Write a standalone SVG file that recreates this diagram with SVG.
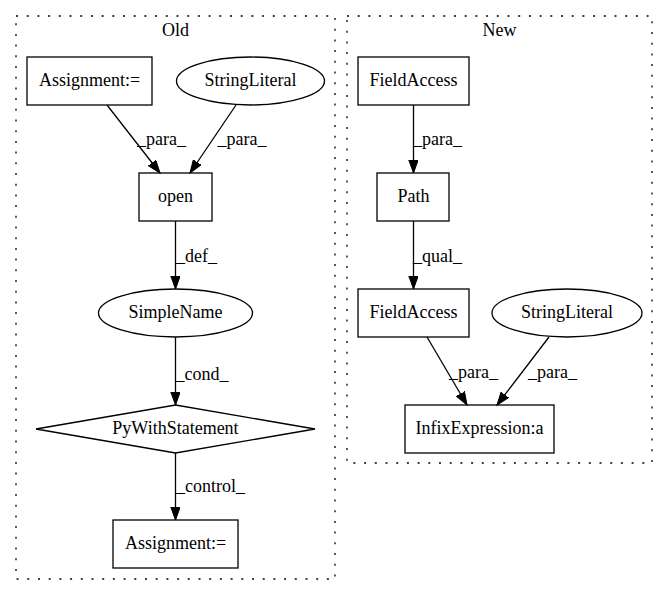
<svg xmlns="http://www.w3.org/2000/svg" width="668" height="596" viewBox="0 0 668 596">
<style>
text{font-family:"Liberation Serif","Times New Roman",serif;font-size:18px;text-anchor:middle;fill:#000}
.cl{fill:none;stroke:#000;stroke-dasharray:2,8.7;stroke-width:1.3}
.n{fill:none;stroke:#000;stroke-width:1.3}
.e{fill:none;stroke:#000;stroke-width:1.3;marker-end:url(#ah)}
</style>
<defs>
<marker id="ah" markerUnits="userSpaceOnUse" markerWidth="14" markerHeight="10" refX="13" refY="4.7" orient="auto">
<path d="M0,0 L13,4.7 L0,9.4 z" fill="#000" stroke="#000" stroke-width="1"/>
</marker>
</defs>
<rect width="668" height="596" fill="#fff"/>
<g id="cluster_old">
<rect class="cl" x="16" y="16" width="319" height="563"/>
<text x="175.5" y="36">Old</text>
</g>
<g id="cluster_new">
<rect class="cl" x="347" y="16" width="305" height="447"/>
<text x="499.5" y="36">New</text>
</g>
<g id="old_assign1"><rect class="n" x="27" y="57" width="125" height="48"/><text x="89.5" y="86">Assignment:=</text></g>
<g id="old_strlit"><ellipse class="n" cx="250.5" cy="81" rx="74" ry="24"/><text x="250.5" y="86">StringLiteral</text></g>
<g id="old_open"><rect class="n" x="139" y="173" width="73" height="48"/><text x="175.5" y="202">open</text></g>
<g id="old_simplename"><ellipse class="n" cx="175.5" cy="313" rx="77" ry="24"/><text x="175.5" y="318">SimpleName</text></g>
<g id="old_pywith"><polygon class="n" points="175.5,405 315,429 175.5,453 36,429"/><text x="175.5" y="434">PyWithStatement</text></g>
<g id="old_assign2"><rect class="n" x="113" y="520" width="125" height="48"/><text x="175.5" y="549">Assignment:=</text></g>
<g id="new_fa1"><rect class="n" x="358" y="57" width="111" height="48"/><text x="413.5" y="86">FieldAccess</text></g>
<g id="new_path"><rect class="n" x="377" y="173" width="72" height="48"/><text x="413.5" y="202">Path</text></g>
<g id="new_fa2"><rect class="n" x="358" y="289" width="111" height="48"/><text x="413.5" y="318">FieldAccess</text></g>
<g id="new_strlit"><ellipse class="n" cx="567" cy="313" rx="75" ry="24"/><text x="567" y="318">StringLiteral</text></g>
<g id="new_infix"><rect class="n" x="405" y="405" width="149" height="48"/><text x="479.5" y="434">InfixExpression:a</text></g>
<g id="edges">
<path class="e" d="M107,105 L160,173"/>
<text x="161.5" y="145">_para_</text>
<path class="e" d="M236,105 L190,173"/>
<text x="242" y="145">_para_</text>
<path class="e" d="M175.5,221 L175.5,289"/>
<text x="196.5" y="262">_def_</text>
<path class="e" d="M175.5,337 L175.5,405"/>
<text x="202" y="380">_cond_</text>
<path class="e" d="M175.5,453 L175.5,520"/>
<text x="210.5" y="492">_control_</text>
<path class="e" d="M413.5,105 L413.5,173"/>
<text x="437.5" y="145">_para_</text>
<path class="e" d="M413.5,221 L413.5,289"/>
<text x="437.5" y="262">_qual_</text>
<path class="e" d="M427,337 L467,405"/>
<text x="473.5" y="378">_para_</text>
<path class="e" d="M549,337 L497,405"/>
<text x="552.5" y="378">_para_</text>
</g>
</svg>
